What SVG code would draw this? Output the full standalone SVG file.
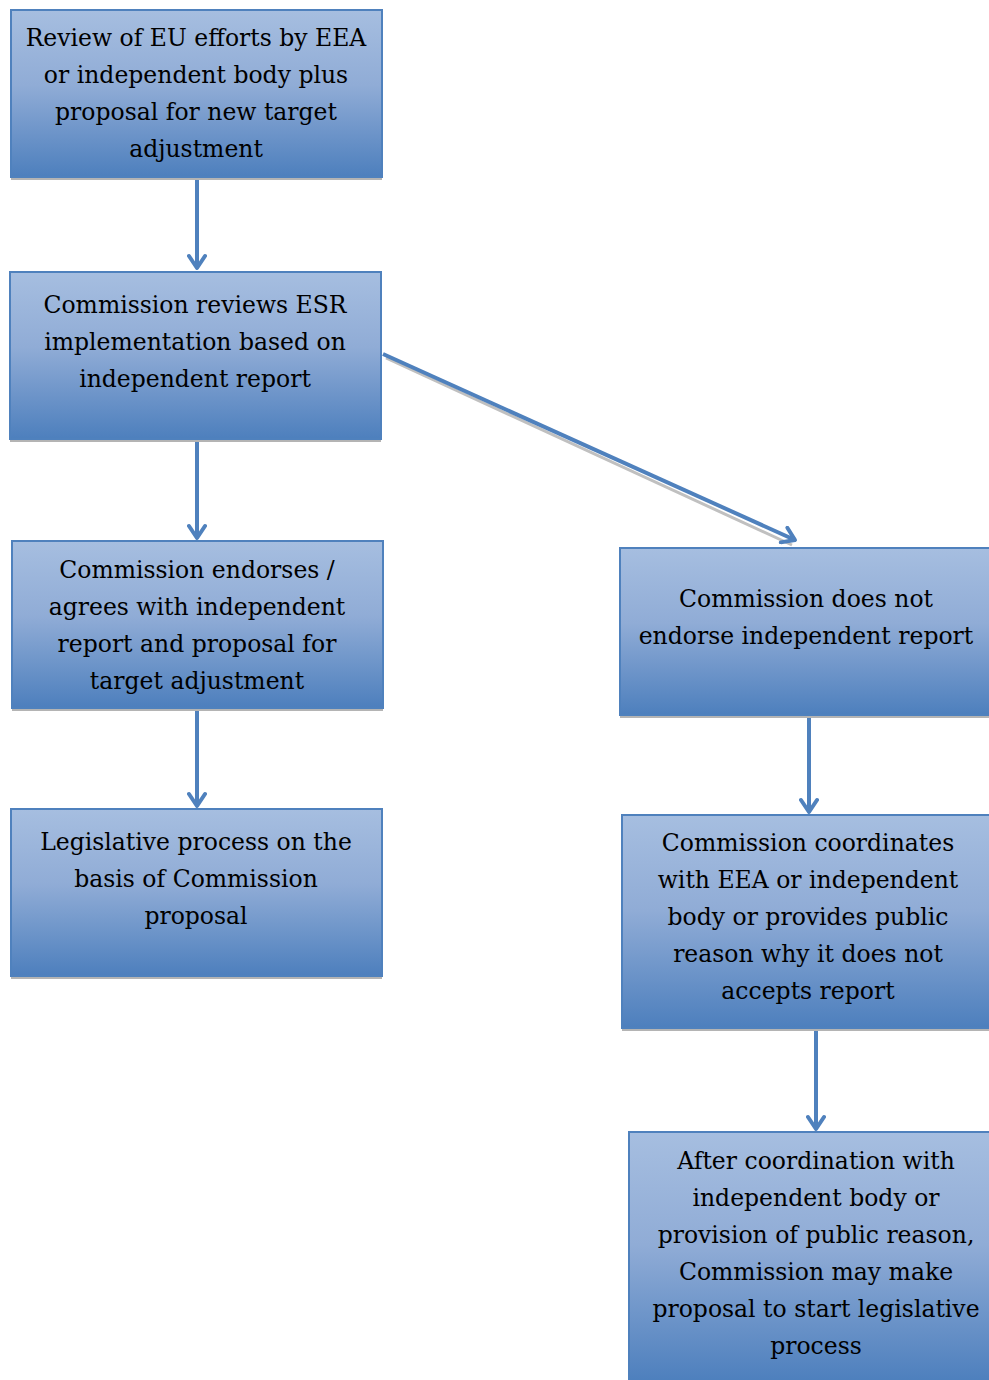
<svg xmlns="http://www.w3.org/2000/svg" width="989" height="1380" viewBox="0 0 989 1380">
<defs>
<linearGradient id="g" x1="0" y1="0" x2="0" y2="1">
<stop offset="0" stop-color="#a6bee0"/>
<stop offset="0.45" stop-color="#90acd6"/>
<stop offset="1" stop-color="#4d7fbd"/>
</linearGradient>
<marker id="ah" viewBox="0 0 20 20" refX="16" refY="10" markerWidth="5" markerHeight="5" orient="auto" markerUnits="strokeWidth">
<path d="M4,2 L16,10 L4,18" fill="none" stroke="#4f81bd" stroke-width="4" stroke-linecap="round" stroke-linejoin="round"/>
</marker>
</defs>
<style>
.box{fill:url(#g);stroke:#4f81bd;stroke-width:2}
.sh{fill:#b4b4b4}
.t{font-family:"DejaVu Serif","Liberation Serif",serif;font-size:23.5px;fill:#000;text-anchor:middle}
.c{stroke:#4f81bd;stroke-width:4;fill:none;marker-end:url(#ah)}
.cs{stroke:#c0c0c0;stroke-width:3;fill:none}
</style>
<g id="connectors">
<line class="cs" x1="386" y1="358" x2="792" y2="545"/>
<line class="c" x1="197" y1="178" x2="197" y2="268"/>
<line class="c" x1="197" y1="440" x2="197" y2="538"/>
<line class="c" x1="197" y1="709" x2="197" y2="806"/>
<line class="c" x1="383" y1="354" x2="795" y2="540"/>
<line class="c" x1="809" y1="716" x2="809" y2="812"/>
<line class="c" x1="816" y1="1030" x2="816" y2="1129"/>
</g>
<g id="n1">
<rect class="sh" x="11" y="177" width="371" height="3"/>
<rect class="box" x="11" y="10" width="371" height="167"/>
<text class="t" x="196" y="46">Review of EU efforts by EEA</text>
<text class="t" x="196" y="83">or independent body plus</text>
<text class="t" x="196" y="120">proposal for new target</text>
<text class="t" x="196" y="157">adjustment</text>
</g>
<g id="n2">
<rect class="sh" x="10" y="439" width="371" height="3"/>
<rect class="box" x="10" y="272" width="371" height="167"/>
<text class="t" x="195" y="313">Commission reviews ESR</text>
<text class="t" x="195" y="350">implementation based on</text>
<text class="t" x="195" y="387">independent report</text>
</g>
<g id="n3">
<rect class="sh" x="12" y="708" width="371" height="3"/>
<rect class="box" x="12" y="541" width="371" height="167"/>
<text class="t" x="197" y="578">Commission endorses /</text>
<text class="t" x="197" y="615">agrees with independent</text>
<text class="t" x="197" y="652">report and proposal for</text>
<text class="t" x="197" y="689">target adjustment</text>
</g>
<g id="n4">
<rect class="sh" x="11" y="976" width="371" height="3"/>
<rect class="box" x="11" y="809" width="371" height="167"/>
<text class="t" x="196" y="850">Legislative process on the</text>
<text class="t" x="196" y="887">basis of Commission</text>
<text class="t" x="196" y="924">proposal</text>
</g>
<g id="n5">
<rect class="sh" x="620" y="715" width="372" height="3"/>
<rect class="box" x="620" y="548" width="372" height="167"/>
<text class="t" x="806" y="607">Commission does not</text>
<text class="t" x="806" y="644">endorse independent report</text>
</g>
<g id="n6">
<rect class="sh" x="622" y="1028" width="372" height="3"/>
<rect class="box" x="622" y="815" width="372" height="213"/>
<text class="t" x="808" y="851">Commission coordinates</text>
<text class="t" x="808" y="888">with EEA or independent</text>
<text class="t" x="808" y="925">body or provides public</text>
<text class="t" x="808" y="962">reason why it does not</text>
<text class="t" x="808" y="999">accepts report</text>
</g>
<g id="n7">
<rect class="box" x="629" y="1132" width="374" height="250"/>
<text class="t" x="816" y="1169">After coordination with</text>
<text class="t" x="816" y="1206">independent body or</text>
<text class="t" x="816" y="1243">provision of public reason,</text>
<text class="t" x="816" y="1280">Commission may make</text>
<text class="t" x="816" y="1317">proposal to start legislative</text>
<text class="t" x="816" y="1354">process</text>
</g>
</svg>
